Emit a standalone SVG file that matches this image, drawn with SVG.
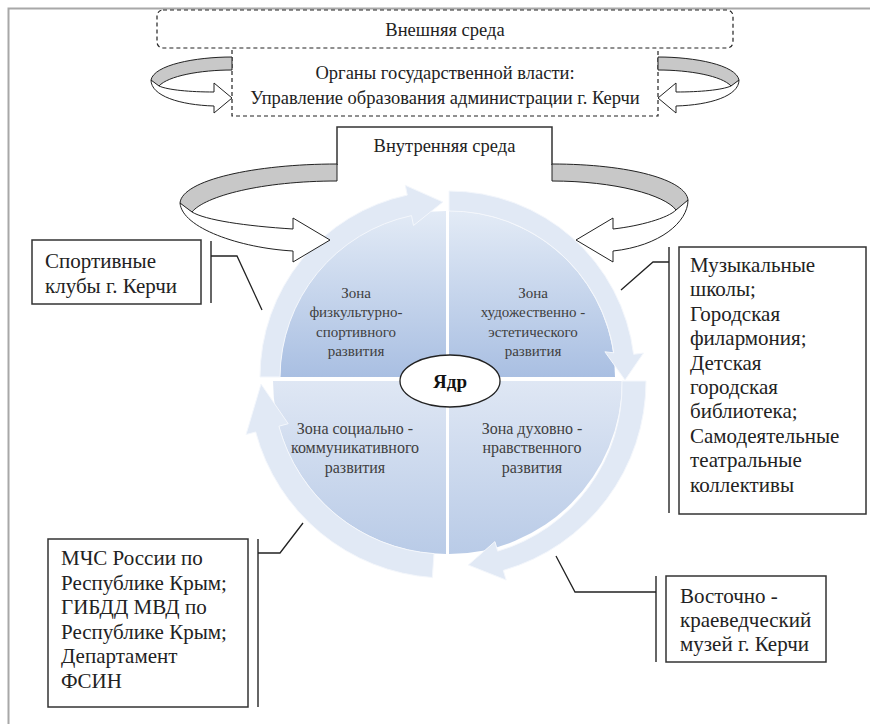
<svg xmlns="http://www.w3.org/2000/svg" width="870" height="724" viewBox="0 0 870 724">
<style>
.frame{stroke:#a8a8a8;stroke-width:2;fill:none}
.dash{fill:none;stroke:#222;stroke-width:1.2;stroke-dasharray:4 3}
.box{fill:#fff;stroke:#333;stroke-width:1.5}
.ln{fill:none;stroke:#333;stroke-width:1.5}
.conn{fill:none;stroke:#222;stroke-width:1.3}
.back{fill:#c8c8c8;stroke:#222;stroke-width:1}
.front{fill:#fff;stroke:#222;stroke-width:1}
text{font-family:'Liberation Serif','Times New Roman',Tinos,'DejaVu Serif',serif}
.t{font-size:21px;fill:#222}
.tc{font-size:18.5px;fill:#222;text-anchor:middle}
.tz{font-size:15px;fill:#404040;text-anchor:middle}
.tzb{font-size:16px;fill:#404040;text-anchor:middle}
.ring{fill:#e1e9f5;stroke:#f4f7fc;stroke-width:1}
</style>
<defs>
<linearGradient id="gTop" x1="0" y1="0" x2="0" y2="1">
<stop offset="0" stop-color="#e3ebf6"/><stop offset="1" stop-color="#a9bfe2"/>
</linearGradient>
<linearGradient id="gBot" x1="0" y1="0" x2="0" y2="1">
<stop offset="0" stop-color="#dfe7f4"/><stop offset="1" stop-color="#b9cbe7"/>
</linearGradient>
</defs>
<rect width="870" height="724" fill="#fff"/>
<path class="frame" d="M8.5,724 V8.5 H870"/>

<g id="external">
<rect class="dash" x="157" y="10" width="576" height="38" rx="6"/>
<text class="tc" x="445" y="36">Внешняя среда</text>
</g>
<g id="government">
<path class="dash" d="M232,50 V116 H658 V50"/>
<text class="tc" x="445" y="79">Органы государственной власти:</text>
<text class="tc" x="445" y="104">Управление образования администрации г. Керчи</text>
</g>
<g id="internal">
<path class="ln" d="M337,165 V127 H552 V165"/>
<text class="tc" x="444.5" y="152">Внутренняя среда</text>
</g>

<g id="cycle">
<path fill="url(#gTop)" d="M446,377 L280,377 A166,166 0 0 1 446,211 Z"/>
<path fill="url(#gTop)" d="M449,377 L449,211 A166,166 0 0 1 615,377 Z"/>
<path fill="url(#gBot)" d="M446,381 L446,554 A173,173 0 0 1 273,381 Z"/>
<path fill="url(#gBot)" d="M449,381 L622,381 A173,173 0 0 1 449,554 Z"/>
<path class="ring" d="M260,377 A186,186 0 0 1 407.3,195.1 L405.3,185.3 L442.9,202 L413.5,225.5 L411.5,215.6 A166,166 0 0 0 280,377 Z"/>
<path class="ring" d="M449,191 A186,186 0 0 1 633.6,354.3 L643.5,353.1 L625,380 L604.9,351.8 L613.8,352.8 A166,166 0 0 0 449,211 Z"/>
<path class="ring" d="M646,381 A197,197 0 0 1 503.3,570.4 L506.1,580 L468.3,565 L494.9,541.6 L497.7,551.2 A173,173 0 0 0 622,381 Z"/>
<path class="ring" d="M432.3,577.5 A197,197 0 0 1 255.7,432 L246,434.6 L261,384 L288.2,423.7 L278.9,426.2 A173,173 0 0 0 434,553.6 Z"/>
</g>

<g id="zone-sport">
<text class="tz" x="356" y="298">Зона</text>
<text class="tz" x="356" y="317">физкультурно-</text>
<text class="tz" x="356" y="337">спортивного</text>
<text class="tz" x="356" y="356">развития</text>
</g>
<g id="zone-art">
<text class="tz" x="533" y="298">Зона</text>
<text class="tz" x="533" y="317">художественно -</text>
<text class="tz" x="533" y="337">эстетического</text>
<text class="tz" x="533" y="356">развития</text>
</g>
<g id="zone-social">
<text class="tzb" x="355" y="434">Зона социально -</text>
<text class="tzb" x="355" y="453">коммуникативного</text>
<text class="tzb" x="355" y="473">развития</text>
</g>
<g id="zone-moral">
<text class="tzb" x="532" y="434">Зона духовно -</text>
<text class="tzb" x="532" y="453">нравственного</text>
<text class="tzb" x="532" y="473">развития</text>
</g>
<g id="core">
<ellipse cx="450" cy="381" rx="50" ry="26" fill="#fff" stroke="#222" stroke-width="1.3"/>
<text x="450" y="388" text-anchor="middle" font-size="19" font-weight="bold" fill="#111">Ядр</text>
</g>

<g id="arrows">
<path class="back" d="M232,57 C195,57 154,65 151,80 C154,83 156,85 159,86 C168,76 200,70 232,70 Z"/>
<path class="front" d="M151,80 C151,96 180,105 214,106 L214,113 L232,98 L214,83 L214,92 C190,92 168,90 159,86 Z"/>
<g transform="translate(890,0) scale(-1,1)">
<path class="back" d="M232,57 C195,57 154,65 151,80 C154,83 156,85 159,86 C168,76 200,70 232,70 Z"/>
<path class="front" d="M151,80 C151,96 180,105 214,106 L214,113 L232,98 L214,83 L214,92 C190,92 168,90 159,86 Z"/>
</g>
<path class="back" d="M337,164 C255,164 182,180 180,203 C184,207 188,210 192,212 C205,196 262,181 337,181 Z"/>
<path class="front" d="M180,203 C182,228 240,248 293,251 L293,262 L330,240 L293,218 L293,229 C245,226 205,220 192,212 Z"/>
<path class="back" d="M552,164 C630,164 686,180 688,200 C684,205 680,208 676,210 C665,195 615,181 552,181 Z"/>
<path class="front" d="M688,200 C688,222 660,246 613,251 L613,262 L576,240 L613,218 L613,229 C640,226 668,218 676,210 Z"/>
</g>

<g id="connectors">
<path class="ln" d="M211,241 V303"/>
<path class="conn" d="M211,256 H237 L262,310"/>
<path class="ln" d="M669,247 V513"/>
<path class="conn" d="M669,262 H653 L621,290"/>
<path class="ln" d="M258,539 V707"/>
<path class="conn" d="M258,553 H280 L303,523"/>
<path class="ln" d="M656,576 V662"/>
<path class="conn" d="M656,592 H575 L556,556"/>
</g>

<g id="sport-clubs">
<rect class="box" x="32" y="240" width="169" height="64"/>
<text class="t" x="45" y="268">Спортивные</text>
<text class="t" x="45" y="293">клубы г. Керчи</text>
</g>
<g id="music">
<rect class="box" x="679" y="247" width="187" height="267"/>
<text class="t" x="690" y="272">Музыкальные</text>
<text class="t" x="690" y="296.4">школы;</text>
<text class="t" x="690" y="320.8">Городская</text>
<text class="t" x="690" y="345.2">филармония;</text>
<text class="t" x="690" y="369.6">Детская</text>
<text class="t" x="690" y="394">городская</text>
<text class="t" x="690" y="418.4">библиотека;</text>
<text class="t" x="690" y="442.8">Самодеятельные</text>
<text class="t" x="690" y="467.2">театральные</text>
<text class="t" x="690" y="491.6">коллективы</text>
</g>
<g id="emergency">
<rect class="box" x="48" y="539" width="200" height="168"/>
<text class="t" x="61" y="565">МЧС России по</text>
<text class="t" x="61" y="590">Республике Крым;</text>
<text class="t" x="61" y="614">ГИБДД МВД по</text>
<text class="t" x="61" y="639">Республике Крым;</text>
<text class="t" x="61" y="663">Департамент</text>
<text class="t" x="61" y="688">ФСИН</text>
</g>
<g id="museum">
<rect class="box" x="666" y="576" width="160" height="86"/>
<text class="t" x="680" y="603">Восточно -</text>
<text class="t" x="680" y="627">краеведческий</text>
<text class="t" x="680" y="651">музей г. Керчи</text>
</g>
</svg>
